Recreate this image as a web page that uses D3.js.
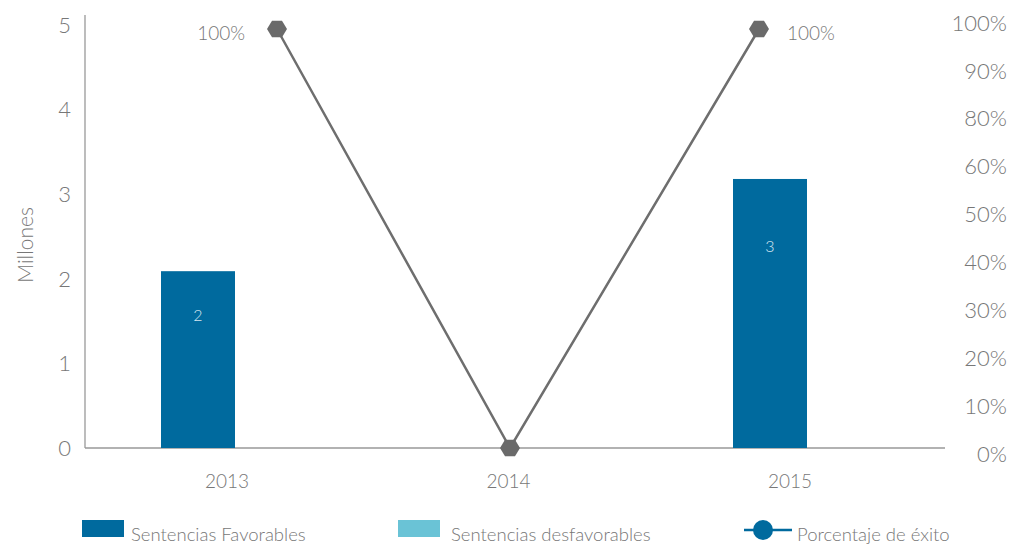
<!DOCTYPE html>
<html>
<head>
<meta charset="utf-8">
<script src="https://cdn.jsdelivr.net/npm/d3@7"></script>
<style>
  body { margin: 0; background: #fff; }
  text { font-family: Lato, "Open Sans", sans-serif; font-weight: 300; fill: #777; }
</style>
</head>
<body>
<div id="chart"></div>
<script>
// data
var years = ["2013", "2014", "2015"];
var favorables = [2.09, 0, 3.18];
var favLabels = ["2", "", "3"];
var desfavorables = [0, 0, 0];
var exito = [1, 0, 1];
var exitoLabels = ["100%", "", "100%"];
var leftTicks = [0, 1, 2, 3, 4, 5];
var rightTickLabels = ["0%", "10%", "20%", "30%", "40%", "50%", "60%", "80%", "90%", "100%"];

var svgWidth = 1025;
var svgHeight = 544;

var svg = d3.select("#chart")
  .append("svg")
  .attr("width", svgWidth)
  .attr("height", svgHeight);

var colorFav = "#006a9e";
var colorDes = "#6ac3d6";
var colorLine = "#6e6e6e";

// scales
var xLabel = d3.scalePoint().domain(years).range([227, 790]);
var xLine = d3.scaleOrdinal().domain(years).range([277, 510, 759]);
var yScale = d3.scaleLinear().domain([0, 5]).range([448, 25]);
var yLine = d3.scaleLinear().domain([0, 1]).range([448, 29]);
var yRight = d3.scalePoint().domain(rightTickLabels).range([454, 23]);

// axes lines
svg.append("line")
  .attr("x1", 85).attr("x2", 85)
  .attr("y1", 15).attr("y2", yScale(0))
  .attr("stroke", "#999").attr("stroke-width", 1.3);

svg.append("line")
  .attr("x1", 85).attr("x2", 945)
  .attr("y1", yScale(0)).attr("y2", yScale(0))
  .attr("stroke", "#999").attr("stroke-width", 1.3);

// left tick labels
svg.selectAll(".ltick")
  .data(leftTicks)
  .enter()
  .append("text")
  .attr("x", 71)
  .attr("y", d => yScale(d))
  .attr("dy", "0.35em")
  .attr("text-anchor", "end")
  .style("font-size", "22px")
  .text(d => d);

// right tick labels
svg.selectAll(".rtick")
  .data(rightTickLabels)
  .enter()
  .append("text")
  .attr("x", 1007)
  .attr("y", d => yRight(d))
  .attr("dy", "0.35em")
  .attr("text-anchor", "end")
  .style("font-size", "22px")
  .text(d => d);

// y title
svg.append("text")
  .attr("transform", "translate(33, 245) rotate(-90)")
  .attr("text-anchor", "middle")
  .style("font-size", "21px")
  .text("Millones");

// category labels
svg.selectAll(".xlabel")
  .data(years)
  .enter()
  .append("text")
  .attr("x", d => xLabel(d))
  .attr("y", 488)
  .attr("text-anchor", "middle")
  .style("font-size", "19px")
  .text(d => d);

// bars
var barW = 74;
var barX = (d, i) => xLabel(d) - 66 + i * 4.5;
svg.selectAll(".bar")
  .data(years)
  .enter()
  .append("rect")
  .attr("x", barX)
  .attr("y", (d, i) => yScale(favorables[i]))
  .attr("width", barW)
  .attr("height", (d, i) => yScale(0) - yScale(favorables[i]))
  .attr("fill", colorFav);

svg.selectAll(".barlabel")
  .data(years)
  .enter()
  .append("text")
  .attr("x", (d, i) => barX(d, i) + barW / 2)
  .attr("y", (d, i) => yScale(favorables[i] * 0.75))
  .attr("dy", "0.35em")
  .attr("text-anchor", "middle")
  .style("font-size", "16px")
  .style("fill", "#d6e6f0")
  .text((d, i) => favLabels[i]);

// line
var line = d3.line()
  .x((d, i) => xLine(years[i]))
  .y(d => yLine(d));

svg.append("path")
  .datum(exito)
  .attr("d", line)
  .attr("fill", "none")
  .attr("stroke", colorLine)
  .attr("stroke-width", 2.5);

function hexPath(r) {
  var pts = d3.range(6).map(k => [r * Math.cos(k * Math.PI / 3), r * Math.sin(k * Math.PI / 3) * 0.95]);
  return d3.line()(pts) + "Z";
}

svg.selectAll(".marker")
  .data(exito)
  .enter()
  .append("path")
  .attr("d", hexPath(10))
  .attr("transform", (d, i) => `translate(${xLine(years[i])}, ${yLine(d)})`)
  .attr("fill", "#6a6a6a");

svg.selectAll(".linelabel")
  .data(exito)
  .enter()
  .append("text")
  .attr("x", (d, i) => i === 0 ? xLine(years[i]) - 32 : xLine(years[i]) + 28)
  .attr("y", d => yLine(d) + 4)
  .attr("dy", "0.35em")
  .attr("text-anchor", (d, i) => i === 0 ? "end" : "start")
  .style("font-size", "19px")
  .text((d, i) => exitoLabels[i]);

// legend
var legend = svg.append("g");
legend.append("rect").attr("x", 82).attr("y", 520).attr("width", 42).attr("height", 17).attr("fill", colorFav);
legend.append("text").attr("x", 131).attr("y", 541).style("font-size", "18.5px").text("Sentencias Favorables");
legend.append("rect").attr("x", 398).attr("y", 520).attr("width", 42).attr("height", 17).attr("fill", colorDes);
legend.append("text").attr("x", 451).attr("y", 541).style("font-size", "18.5px").text("Sentencias desfavorables");
legend.append("line").attr("x1", 744).attr("x2", 792).attr("y1", 530).attr("y2", 530)
  .attr("stroke", colorFav).attr("stroke-width", 2.5);
legend.append("circle").attr("cx", 763).attr("cy", 530).attr("r", 10).attr("fill", colorFav);
legend.append("text").attr("x", 797).attr("y", 541).style("font-size", "18.5px").text("Porcentaje de éxito");
</script>
</body>
</html>
